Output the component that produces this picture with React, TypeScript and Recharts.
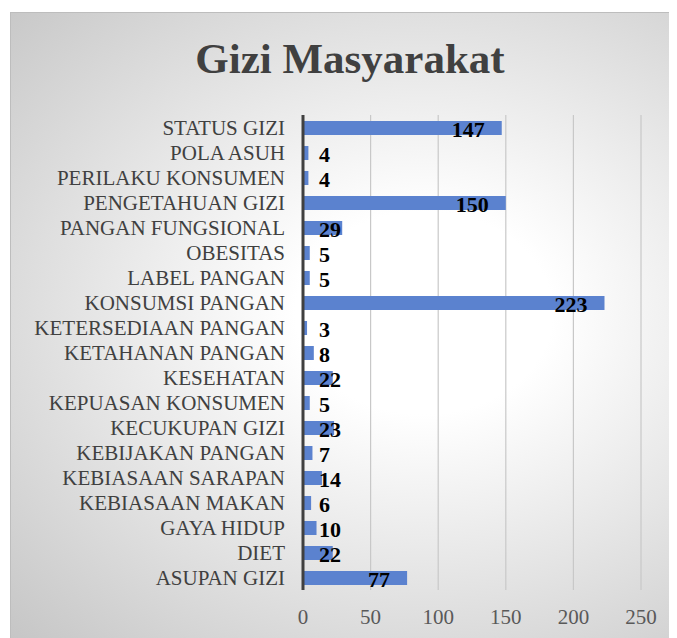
import { Bar, BarChart, CartesianGrid, XAxis, YAxis } from "recharts";

const topics = [
  "STATUS GIZI",
  "POLA ASUH",
  "PERILAKU KONSUMEN",
  "PENGETAHUAN GIZI",
  "PANGAN FUNGSIONAL",
  "OBESITAS",
  "LABEL PANGAN",
  "KONSUMSI PANGAN",
  "KETERSEDIAAN PANGAN",
  "KETAHANAN PANGAN",
  "KESEHATAN",
  "KEPUASAN KONSUMEN",
  "KECUKUPAN GIZI",
  "KEBIJAKAN PANGAN",
  "KEBIASAAN SARAPAN",
  "KEBIASAAN MAKAN",
  "GAYA HIDUP",
  "DIET",
  "ASUPAN GIZI",
];

const counts = [147, 4, 4, 150, 29, 5, 5, 223, 3, 8, 22, 5, 23, 7, 14, 6, 10, 22, 77];

const xTicks = [0, 50, 100, 150, 200, 250];

const SERIF = '"Liberation Serif", "Times New Roman", serif';
const BAR = "#5b82cf";

type Row = { name: string; value: number };

const data: Row[] = topics.map((name, i) => ({ name, value: counts[i] }));

// excel-ish "inside end" label: pulled back from the bar end, but never left of the axis
function ValueLabel(props: any) {
  const { x, y, width, height, value } = props;
  const textW = String(value).length * 11;
  const left = Math.max(x + width - 17 - textW, x + 16);
  return (
    <text
      x={left}
      y={y + height / 2 + 8.5}
      fill="#000"
      fontFamily={SERIF}
      fontSize={22}
      fontWeight="bold"
    >
      {value}
    </text>
  );
}

export default function App() {
  return (
    <div
      style={{
        position: "relative",
        marginLeft: 2,
        marginTop: 4,
        width: 666,
        height: 625,
        borderTop: "1px solid #bdbdbd",
        borderLeft: "1px solid #bdbdbd",
        background:
          "radial-gradient(ellipse at 62% 48%, #ffffff 0%, #ffffff 22%, #c6c6c6 100%)",
        overflow: "hidden",
      }}
    >
      <svg
        width={666}
        height={100}
        style={{ position: "absolute", left: 0, top: 0, pointerEvents: "none" }}
      >
        <text
          x={339}
          y={60}
          textAnchor="middle"
          fill="#404040"
          fontFamily={SERIF}
          fontSize={43}
          fontWeight="bold"
        >
          Gizi Masyarakat
        </text>
      </svg>
      <BarChart
        width={666}
        height={625}
        data={data}
        layout="vertical"
        margin={{ top: 102, right: 36, bottom: 0, left: 0 }}
      >
        <CartesianGrid horizontal={false} stroke="#c8c8c8" strokeWidth={1.2} />
        <XAxis
          type="number"
          domain={[0, 250]}
          ticks={xTicks}
          height={48}
          axisLine={false}
          tickLine={false}
          tickSize={0}
          tickMargin={19}
          tick={{ fill: "#595959", fontSize: 21, fontFamily: SERIF }}
        />
        <YAxis
          type="category"
          dataKey="name"
          width={292}
          axisLine={{ stroke: "#404040", strokeWidth: 3 }}
          tickLine={false}
          tickSize={0}
          tickMargin={18}
          interval={0}
          tick={{ fill: "#404040", fontSize: 21, fontFamily: SERIF }}
        />
        <Bar
          dataKey="value"
          fill={BAR}
          barSize={14}
          isAnimationActive={false}
          label={<ValueLabel />}
        />
      </BarChart>
    </div>
  );
}
